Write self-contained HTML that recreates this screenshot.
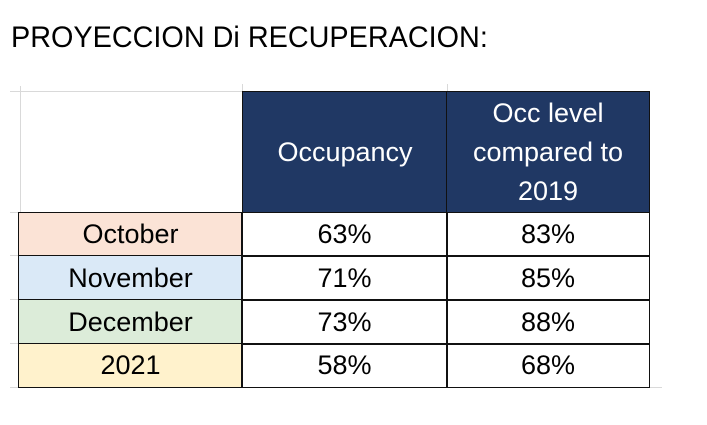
<!DOCTYPE html>
<html><head><style>
body{margin:0;width:707px;height:425px;background:#fff;position:relative;overflow:hidden;font-family:"Liberation Sans",sans-serif;}
.t{position:absolute;left:11px;top:21px;font-size:30px;white-space:nowrap;transform-origin:0 0;transform:scaleX(0.96);color:#000}
.c{position:absolute;box-sizing:border-box;display:flex;align-items:center;justify-content:center;text-align:center;font-size:27px;color:#000}
.g{position:absolute;background:#d9d9d9}
.h{background:#203864;color:#fff;line-height:39px}
</style></head><body>
<div class="t">PROYECCION Di RECUPERACION:</div>
<div class="g" style="left:10px;top:91px;width:232px;height:1px"></div>
<div class="g" style="left:20px;top:86px;width:1px;height:126px"></div>
<div class="g" style="left:242px;top:84px;width:1px;height:8px"></div>
<div class="g" style="left:447px;top:84px;width:1px;height:8px"></div>
<div class="g" style="left:10px;top:387px;width:652px;height:1px"></div>
<div class="g" style="left:10px;top:212px;width:8px;height:1px"></div>
<div class="g" style="left:10px;top:255px;width:8px;height:1px"></div>
<div class="g" style="left:10px;top:299px;width:8px;height:1px"></div>
<div class="g" style="left:10px;top:343px;width:8px;height:1px"></div>
<div class="c h" style="left:242px;top:91px;width:206px;height:122px;border:1.5px solid #111">Occupancy</div>
<div class="c h" style="left:446px;top:91px;width:204px;height:122px;border:1.5px solid #111">Occ level<br>compared to<br>2019</div>

<div class="c" style="left:18px;top:212px;width:225px;height:45px;border:1.5px solid #111;background:#fbe3d6">October</div>
<div class="c" style="left:241px;top:212px;width:207px;height:45px;border:1.5px solid #111">63%</div>
<div class="c" style="left:446px;top:212px;width:204px;height:45px;border:1.5px solid #111">83%</div>

<div class="c" style="left:18px;top:255px;width:225px;height:46px;border:1.5px solid #111;background:#dae9f7">November</div>
<div class="c" style="left:241px;top:255px;width:207px;height:46px;border:1.5px solid #111">71%</div>
<div class="c" style="left:446px;top:255px;width:204px;height:46px;border:1.5px solid #111">85%</div>

<div class="c" style="left:18px;top:299px;width:225px;height:46px;border:1.5px solid #111;background:#dcecd9">December</div>
<div class="c" style="left:241px;top:299px;width:207px;height:46px;border:1.5px solid #111">73%</div>
<div class="c" style="left:446px;top:299px;width:204px;height:46px;border:1.5px solid #111">88%</div>

<div class="c" style="left:18px;top:343px;width:225px;height:45px;border:1.5px solid #111;background:#fff2cc">2021</div>
<div class="c" style="left:241px;top:343px;width:207px;height:45px;border:1.5px solid #111">58%</div>
<div class="c" style="left:446px;top:343px;width:204px;height:45px;border:1.5px solid #111">68%</div>
</body></html>
